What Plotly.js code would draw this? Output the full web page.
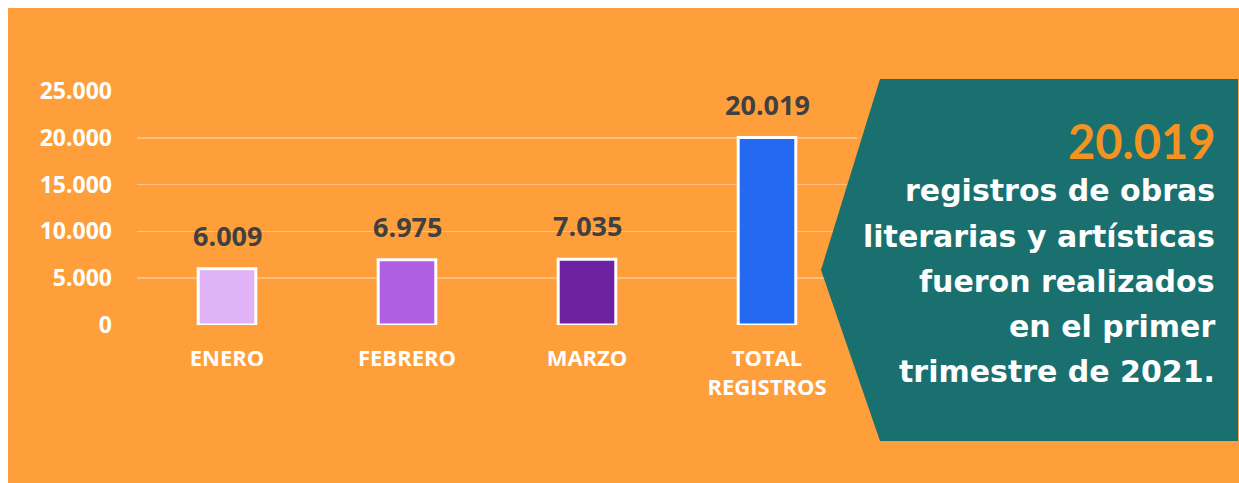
<!DOCTYPE html>
<html><head><meta charset="utf-8">
<script src="https://cdn.plot.ly/plotly-3.0.1.min.js"></script>
<style>html,body{margin:0;padding:0;background:#fff}#c{width:1239px;height:483px}</style>
</head><body><div id="c"></div>
<script>
const categories = ["ENERO", "FEBRERO", "MARZO", "TOTAL<br>REGISTROS"];
const values = [6009, 6975, 7035, 20019];
const valueLabels = ["6.009", "6.975", "7.035", "20.019"];
const barColors = ["#E0B3F7", "#B05EE2", "#6C22A1", "#2469F1"];
const yTickVals = [0, 5000, 10000, 15000, 20000, 25000];
const yTickText = ["0", "5.000", "10.000", "15.000", "20.000", "25.000"];
const headline = "20.019";
const boxLines = ["registros de obras", "literarias y artísticas", "fueron realizados", "en el primer", "trimestre de 2021."];

const W = 1239, H = 483;
const L = 137, R = 857, T = 91, B = 325;
const PW = R - L, PH = B - T;
const px = x => (x - L) / PW;
const py = y => (B - y) / PH;

const orange = "#FE9F3B", teal = "#1A706F";

const trace = {
  type: "bar",
  x: categories,
  y: values,
  marker: {color: barColors, line: {color: "#FFFFFF", width: 3}},
  hoverinfo: "none"
};

const annotations = values.map((v, i) => ({
  x: categories[i], y: v, xref: "x", yref: "y",
  text: valueLabels[i], showarrow: false, yanchor: "bottom", yshift: 13,
  font: {family: "Open Sans", size: 27, color: "#404040", weight: 700}
}));

annotations.push({
  xref: "paper", yref: "paper", x: px(1217), y: py(141), xanchor: "right", yanchor: "middle",
  text: headline, showarrow: false,
  font: {family: "Lato", size: 47, color: "#F39324", weight: 700}
});
const lineY = [190, 236, 281, 326, 371];
boxLines.forEach((t, i) => annotations.push({
  xref: "paper", yref: "paper", x: px(1217), y: py(lineY[i]), xanchor: "right", yanchor: "middle",
  text: t, showarrow: false,
  font: {family: "DejaVu Sans", size: 30, color: "#FFFFFF", weight: 700}
}));

const shapes = [
  {type: "rect", xref: "paper", yref: "paper", x0: px(0), x1: px(W), y0: py(0), y1: py(8),
   fillcolor: "#FFFFFF", line: {width: 0}, layer: "below"},
  {type: "rect", xref: "paper", yref: "paper", x0: px(0), x1: px(8), y0: py(0), y1: py(H),
   fillcolor: "#FFFFFF", line: {width: 0}, layer: "below"},
  {type: "path", xref: "paper", yref: "paper",
   path: `M ${px(880)} ${py(79)} L ${px(1238)} ${py(79)} L ${px(1238)} ${py(441)} L ${px(880)} ${py(441)} L ${px(821)} ${py(270)} Z`,
   fillcolor: teal, line: {width: 0}, layer: "above"}
];

const layout = {
  width: W, height: H,
  margin: {l: L, r: W - R, t: T, b: H - B, pad: 0},
  paper_bgcolor: orange, plot_bgcolor: "rgba(0,0,0,0)",
  showlegend: false, bargap: 0.68,
  xaxis: {
    type: "category", range: [-0.5, 3.5], showgrid: false, showline: false, zeroline: false,
    ticks: "", ticklabelstandoff: 18,
    tickfont: {family: "Open Sans", size: 22, color: "#FFFFFF", weight: 700}
  },
  yaxis: {
    range: [0, 25000], tickvals: yTickVals, ticktext: yTickText,
    showgrid: true, gridcolor: "rgba(255,255,255,0.35)", gridwidth: 1.5,
    zeroline: false, showline: false, ticks: "", ticklabelstandoff: 24,
    tickfont: {family: "Open Sans", size: 23, color: "#FFFFFF", weight: 700}
  },
  annotations, shapes
};

Plotly.newPlot("c", [trace], layout, {staticPlot: true, displayModeBar: false});
</script></body></html>
